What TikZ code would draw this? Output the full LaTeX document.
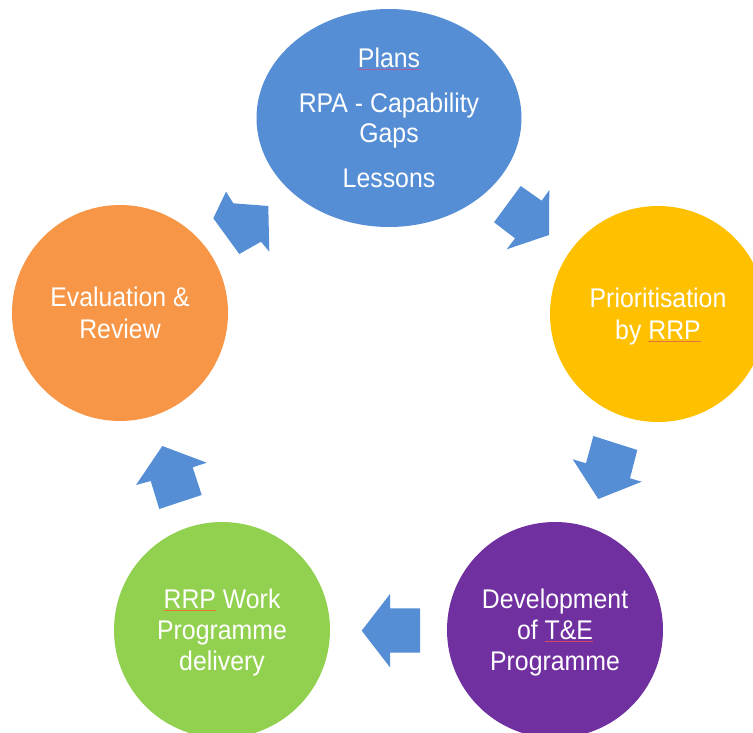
\documentclass[tikz,border=0pt]{standalone}
\usepackage{fontspec}
\setmainfont[FakeStretch=0.92]{Liberation Sans}
\usetikzlibrary{shapes.geometric}
\definecolor{cblue}{HTML}{558ED5}
\definecolor{cyellow}{HTML}{FFC000}
\definecolor{cpurple}{HTML}{7030A0}
\definecolor{cgreen}{HTML}{92D050}
\definecolor{corange}{HTML}{F79646}
\definecolor{ulpurple}{HTML}{A8609C}
\definecolor{ulorange}{HTML}{E8743B}
\definecolor{ulred}{HTML}{D24A62}
\newcommand\spellul[2]{\setbox0\hbox{#2}\rlap{\color{#1}\rule[-2pt]{\wd0}{0.8pt}}\box0\relax}
\begin{document}
\begin{tikzpicture}[x=1pt,y=-1pt,
  lbl/.style={text=white, font=\fontsize{27}{32}\selectfont, align=center, inner sep=0pt},
  disc/.style={lbl, circle, minimum size=216pt, text depth=0pt},
  blockarrow/.style={fill=cblue}]
\useasboundingbox (0,0) rectangle (753,733);
\clip (0,0) rectangle (753,733);

\node[lbl, font=\fontsize{27}{30}\selectfont, ellipse, fill=cblue, minimum width=265pt, minimum height=218pt] (plans) at (389,118)
  {\spellul{ulpurple}{Plans}\\[15pt]RPA - Capability\\Gaps\\[15pt]Lessons};
\node[disc, fill=cyellow] (prio) at (658,314) {Prioritisation\\by \spellul{ulorange}{RRP}};
\node[disc, fill=cpurple, font=\fontsize{27}{31}\selectfont] (dev) at (555,630) {Development\\of \spellul{ulred}{T\&E}\\Programme};
\node[disc, fill=cgreen, font=\fontsize{27}{31}\selectfont] (work) at (222,630) {\spellul{ulorange}{RRP} Work\\Programme\\delivery};
\node[disc, fill=corange] (eval) at (120,313) {Evaluation \&\\Review};

% block arrows
\fill[blockarrow] (226,191.7) -- (233.3,203.3) -- (268.3,206) -- (269.3,251.7) -- (261,241.7) -- (239.3,254) -- (213.3,218.3) -- cycle;
\fill[blockarrow] (520.7,186) -- (541.7,200.7) -- (549.3,190) -- (549,235) -- (506.7,249.3) -- (515,238.3) -- (494,222.3) -- cycle;
\fill[blockarrow] (593.3,436) -- (637.3,450) -- (630,478.3) -- (641.7,481.7) -- (598.3,499) -- (572.7,459.3) -- (586,463.3) -- cycle;
\fill[blockarrow] (361.7,630.7) -- (390,594) -- (390,608.3) -- (420,608.3) -- (420,652.7) -- (390,652.7) -- (390,667.3) -- cycle;
\fill[blockarrow] (162.3,446) -- (206.7,462.7) -- (192.7,467.3) -- (201.7,495) -- (159.3,509) -- (150.7,481) -- (136,485) -- cycle;
\end{tikzpicture}
\end{document}
